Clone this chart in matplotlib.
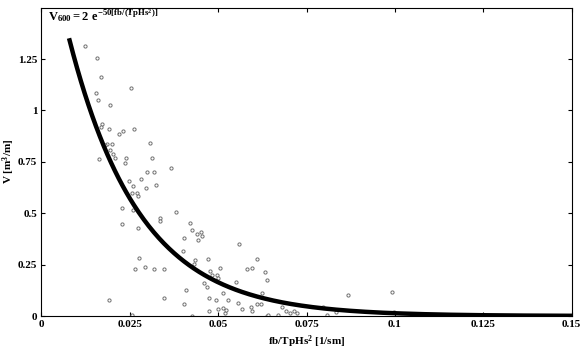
import numpy as np
import matplotlib
matplotlib.use("Agg")
import matplotlib.pyplot as plt

plt.rcParams['font.family'] = ['Liberation Serif', 'DejaVu Serif']
plt.rcParams['font.weight'] = 'bold'
plt.rcParams['mathtext.fontset'] = 'custom'
plt.rcParams['mathtext.rm'] = 'Liberation Serif:bold'
plt.rcParams['mathtext.it'] = 'Liberation Serif:bold'
plt.rcParams['mathtext.bf'] = 'Liberation Serif:bold'

# Observed data (x = fb/TpHs^2, y = V)
obs_x = [0.01236, 0.01575, 0.01697, 0.01555, 0.01612, 0.02528, 0.01934, 0.01717, 0.01697, 0.01923,
         0.02302, 0.02206, 0.02622, 0.01849, 0.01810, 0.02008, 0.01943, 0.03074, 0.02036, 0.02076,
         0.01632, 0.02387, 0.02376, 0.03131, 0.02998, 0.03196, 0.02820, 0.03654, 0.02472, 0.02593,
         0.02969, 0.03244, 0.02565, 0.02720, 0.02726, 0.02296, 0.02593, 0.02279, 0.02740, 0.03351,
         0.03357, 0.03818, 0.04197, 0.04248, 0.04412, 0.04525, 0.04550, 0.04440, 0.04041, 0.04004,
         0.05577, 0.02763, 0.04347, 0.04324, 0.04709, 0.02658, 0.02933, 0.03201, 0.03476, 0.04771,
         0.05062, 0.04827, 0.04974, 0.05006, 0.04610, 0.04694, 0.05492, 0.04092, 0.03476, 0.04737,
         0.04935, 0.05130, 0.05280, 0.05571, 0.01915, 0.04041, 0.04748, 0.04983, 0.05139, 0.05195,
         0.05232, 0.02565, 0.04267, 0.05826, 0.05950, 0.06091, 0.06335, 0.06388, 0.05684, 0.05930,
         0.05964, 0.06114, 0.06219, 0.06247, 0.06369, 0.06821, 0.06929, 0.07033, 0.07141, 0.07223,
         0.06694, 0.06411, 0.07975, 0.08085, 0.08348, 0.08673, 0.09918, 0.09983]
obs_y = [1.312, 1.256, 1.164, 1.086, 1.052, 1.107, 1.026, 0.935, 0.919, 0.908,
         0.900, 0.884, 0.908, 0.837, 0.833, 0.835, 0.809, 0.840, 0.786, 0.770,
         0.764, 0.770, 0.744, 0.770, 0.700, 0.700, 0.666, 0.718, 0.655, 0.631,
         0.623, 0.639, 0.597, 0.597, 0.585, 0.523, 0.516, 0.446, 0.430, 0.475,
         0.464, 0.506, 0.451, 0.417, 0.399, 0.411, 0.389, 0.368, 0.378, 0.316,
         0.349, 0.280, 0.272, 0.254, 0.278, 0.228, 0.237, 0.228, 0.228, 0.220,
         0.235, 0.198, 0.198, 0.184, 0.163, 0.140, 0.165, 0.125, 0.0885, 0.0866,
         0.0778, 0.113, 0.0778, 0.0623, 0.0768, 0.0569, 0.0229, 0.0331, 0.0389, 0.016,
         0.0277, 0.0034, 0.0024, 0.229, 0.235, 0.278, 0.214, 0.174, 0.0326, 0.0423,
         0.0243, 0.0569, 0.0569, 0.113, 0.001, 0.0423, 0.0243, 0.0136, 0.0243, 0.0156,
         0.0063, 0.0063, 0.0452, 0.0034, 0.018, 0.1036, 0.1158, 0.021]

# Fitted curve V = a * exp(b * x)
fit_a = 2.0
fit_b = -50.0
fit_xmin, fit_xmax = 0.008, 0.15

x_ticks = [0, 0.025, 0.05, 0.075, 0.1, 0.125, 0.15]
x_ticklabels = ['0', '0.025', '0.05', '0.075', '0.1', '0.125', '0.15']
y_ticks = [0, 0.25, 0.5, 0.75, 1, 1.25]
y_ticklabels = ['0', '0.25', '0.5', '0.75', '1', '1.25']

fig = plt.figure(figsize=(5.86, 3.5), dpi=100)
ax = fig.add_axes([0.0705, 0.0971, 0.9051, 0.8811])

ax.plot(obs_x, obs_y, linestyle='none', marker='o', markersize=2.3,
        markerfacecolor='white', markeredgecolor='#707070', markeredgewidth=0.7, zorder=2)

xf = np.linspace(fit_xmin, fit_xmax, 400)
ax.plot(xf, fit_a * np.exp(fit_b * xf), color='black', linewidth=3.2, zorder=3)

ax.set_xlim(0, 0.15)
ax.set_ylim(0, 1.5)
ax.set_xticks(x_ticks)
ax.set_xticklabels(x_ticklabels)
ax.set_yticks(y_ticks)
ax.set_yticklabels(y_ticklabels)
ax.tick_params(direction='in', top=True, right=True, length=3, width=0.8,
               labelsize=8, pad=3)
for lab in ax.get_xticklabels() + ax.get_yticklabels():
    lab.set_fontweight('bold')
for sp in ax.spines.values():
    sp.set_linewidth(0.8)

ax.set_xlabel(r'fb/TpHs$^{\mathrm{2}}$ [1/sm]', fontsize=8, fontweight='bold', labelpad=3)
ax.set_ylabel(r'V [m$^{\mathrm{3}}$/m]', fontsize=8, fontweight='bold')
ax.yaxis.set_label_coords(-0.045, 0.5)

ax.text(0.0019, 1.435, r'$\mathrm{V_{600}=2\ e^{-50[fb/(TpHs^2)]}}$',
        fontsize=9, va='baseline', ha='left')

fig.savefig('out.png', dpi=100)
